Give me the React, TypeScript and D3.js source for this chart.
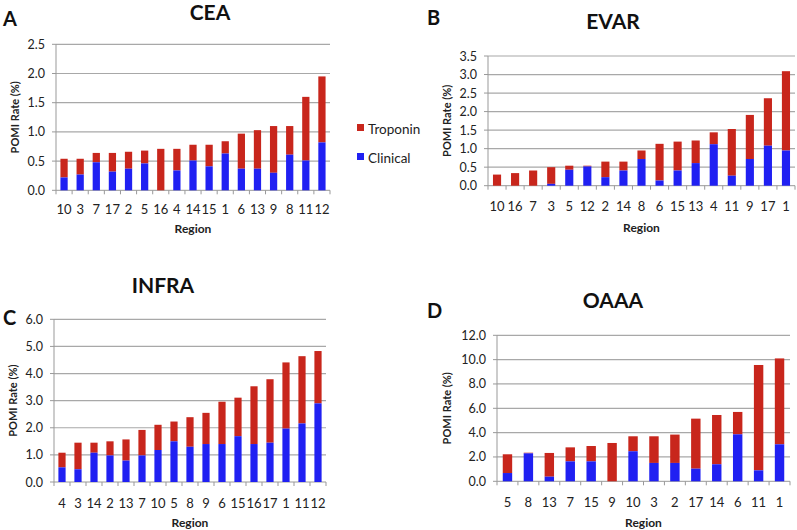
import React from "react";
import * as d3 from "d3";

const RED = "#c8261c";
const BLUE = "#2020f2";
const GRID = "#a8a8a8";
const FONT = "Lato, 'Open Sans', sans-serif";

// CEA
const ceaRegions = ["10", "3", "7", "17", "2", "5", "16", "4", "14", "15", "1", "6", "13", "9", "8", "11", "12"];
const ceaClinical = [0.22, 0.27, 0.48, 0.32, 0.37, 0.46, 0, 0.34, 0.51, 0.41, 0.63, 0.37, 0.37, 0.3, 0.61, 0.51, 0.82];
const ceaTotal = [0.54, 0.54, 0.64, 0.64, 0.66, 0.68, 0.71, 0.71, 0.78, 0.78, 0.84, 0.97, 1.03, 1.1, 1.1, 1.6, 1.95];

// EVAR
const evarRegions = ["10", "16", "7", "3", "5", "12", "2", "14", "8", "6", "15", "13", "4", "11", "9", "17", "1"];
const evarClinical = [0, 0, 0, 0.05, 0.43, 0.52, 0.23, 0.41, 0.72, 0.14, 0.41, 0.61, 1.12, 0.27, 0.72, 1.08, 0.95];
const evarTotal = [0.3, 0.34, 0.41, 0.5, 0.54, 0.54, 0.65, 0.65, 0.95, 1.13, 1.19, 1.22, 1.44, 1.53, 1.91, 2.36, 3.09];

// INFRA
const infraRegions = ["4", "3", "14", "2", "13", "7", "10", "5", "8", "9", "6", "15", "16", "17", "1", "11", "12"];
const infraClinical = [0.54, 0.47, 1.08, 0.98, 0.79, 0.98, 1.18, 1.5, 1.3, 1.4, 1.4, 1.69, 1.4, 1.45, 1.97, 2.16, 2.9];
const infraTotal = [1.08, 1.45, 1.45, 1.5, 1.57, 1.92, 2.11, 2.23, 2.39, 2.55, 2.96, 3.11, 3.53, 3.79, 4.41, 4.64, 4.83];

// OAAA
const oaaaRegions = ["5", "8", "13", "7", "15", "9", "10", "3", "2", "17", "14", "6", "11", "1"];
const oaaaClinical = [0.68, 2.3, 0.38, 1.64, 1.64, 0, 2.47, 1.51, 1.51, 1.04, 1.4, 3.86, 0.9, 3.04];
const oaaaTotal = [2.22, 2.35, 2.33, 2.79, 2.9, 3.15, 3.7, 3.7, 3.84, 5.15, 5.45, 5.7, 9.56, 10.1];

const legendItems = ["Troponin", "Clinical"];

type PanelProps = {
  letter: string;
  title: string;
  regions: string[];
  clinical: number[];
  total: number[];
  yMax: number;
  yStep: number;
  left: number;
  right: number;
  top: number;
  bottom: number;
  titleX: number;
  titleY: number;
  letterX: number;
  letterY: number;
  ylabX: number;
  xlabY: number;
  regionY: number;
};

function Panel(p: PanelProps) {
  const x = d3.scaleBand<string>().domain(p.regions).range([p.left, p.right]).paddingInner(0.55).paddingOuter(0.275);
  const xb = d3.scaleBand<string>().domain(p.regions).range([p.left, p.right]);
  const y = d3.scaleLinear().domain([0, p.yMax]).range([p.bottom, p.top]);
  const ticks = d3.range(0, p.yMax + p.yStep / 2, p.yStep);
  const bw = x.bandwidth();
  return (
    <g fontFamily={FONT}>
      <text x={p.letterX} y={p.letterY} fontSize={20} fontWeight={700} fill="#111">{p.letter}</text>
      <text x={p.titleX} y={p.titleY} fontSize={21} fontWeight={700} textAnchor="middle" fill="#111">{p.title}</text>
      {ticks.map((t) => (
        <g key={t}>
          {t > 0 && <line x1={p.left} x2={p.right} y1={y(t)} y2={y(t)} stroke={GRID} strokeWidth={1.2} />}
          <line x1={p.left - 4} x2={p.left} y1={y(t)} y2={y(t)} stroke="#999" />
          <text x={p.left - 11} y={y(t) + 4.5} fontSize={12.5} textAnchor="end" fill="#222">{t.toFixed(1)}</text>
        </g>
      ))}
      <line x1={p.left} x2={p.left} y1={p.top} y2={p.bottom} stroke="#999" />
      <line x1={p.left} x2={p.right} y1={p.bottom} y2={p.bottom} stroke="#999" />
      {p.regions.map((r, i) => (
        <line key={"t" + i} x1={xb(r)!} x2={xb(r)!} y1={p.bottom} y2={p.bottom + 4} stroke="#999" />
      ))}
      <line x1={p.right} x2={p.right} y1={p.bottom} y2={p.bottom + 4} stroke="#999" />
      {p.regions.map((r, i) => (
        <g key={r}>
          <rect x={x(r)!} width={bw} y={y(p.total[i])} height={y(p.clinical[i]) - y(p.total[i])} fill={RED} />
          <rect x={x(r)!} width={bw} y={y(p.clinical[i])} height={y(0) - y(p.clinical[i])} fill={BLUE} />
          <text x={x(r)! + bw / 2} y={p.xlabY} fontSize={13} textAnchor="middle" fill="#222">{r}</text>
        </g>
      ))}
      <text x={(p.left + p.right) / 2} y={p.regionY} fontSize={12} fontWeight={700} textAnchor="middle" fill="#222">Region</text>
      <text transform={`translate(${p.ylabX},${(p.top + p.bottom) / 2}) rotate(-90)`} fontSize={11} fontWeight={700} textAnchor="middle" dy="0.35em" fill="#222">POMI Rate (%)</text>
    </g>
  );
}

export default function App() {
  return (
    <svg width={797} height={530} style={{ position: "absolute", left: 0, top: 0, background: "#fff" }}>
      <Panel letter="A" title="CEA" regions={ceaRegions} clinical={ceaClinical} total={ceaTotal} yMax={2.5} yStep={0.5}
        left={56} right={330} top={44.3} bottom={190.3} titleX={210} titleY={20} letterX={3} letterY={26}
        ylabX={15} xlabY={214} regionY={233} />
      <Panel letter="B" title="EVAR" regions={evarRegions} clinical={evarClinical} total={evarTotal} yMax={3.5} yStep={0.5}
        left={488} right={795} top={56} bottom={185.7} titleX={613} titleY={29} letterX={427} letterY={25}
        ylabX={447} xlabY={211} regionY={232} />
      <Panel letter="C" title="INFRA" regions={infraRegions} clinical={infraClinical} total={infraTotal} yMax={6} yStep={1}
        left={54} right={326} top={319.3} bottom={482} titleX={163} titleY={293} letterX={3} letterY={325}
        ylabX={13} xlabY={508} regionY={527} />
      <Panel letter="D" title="OAAA" regions={oaaaRegions} clinical={oaaaClinical} total={oaaaTotal} yMax={12} yStep={2}
        left={497} right={790} top={335.3} bottom={481.3} titleX={613} titleY={308} letterX={427} letterY={318}
        ylabX={447} xlabY={507} regionY={527} />
      <g fontFamily={FONT}>
        {legendItems.map((d, i) => (
          <g key={d} transform={`translate(357,${124 + i * 29})`}>
            <rect width={7} height={7} fill={i === 0 ? RED : BLUE} />
            <text x={11} y={10} fontSize={13.5} fill="#222">{d}</text>
          </g>
        ))}
      </g>
    </svg>
  );
}
